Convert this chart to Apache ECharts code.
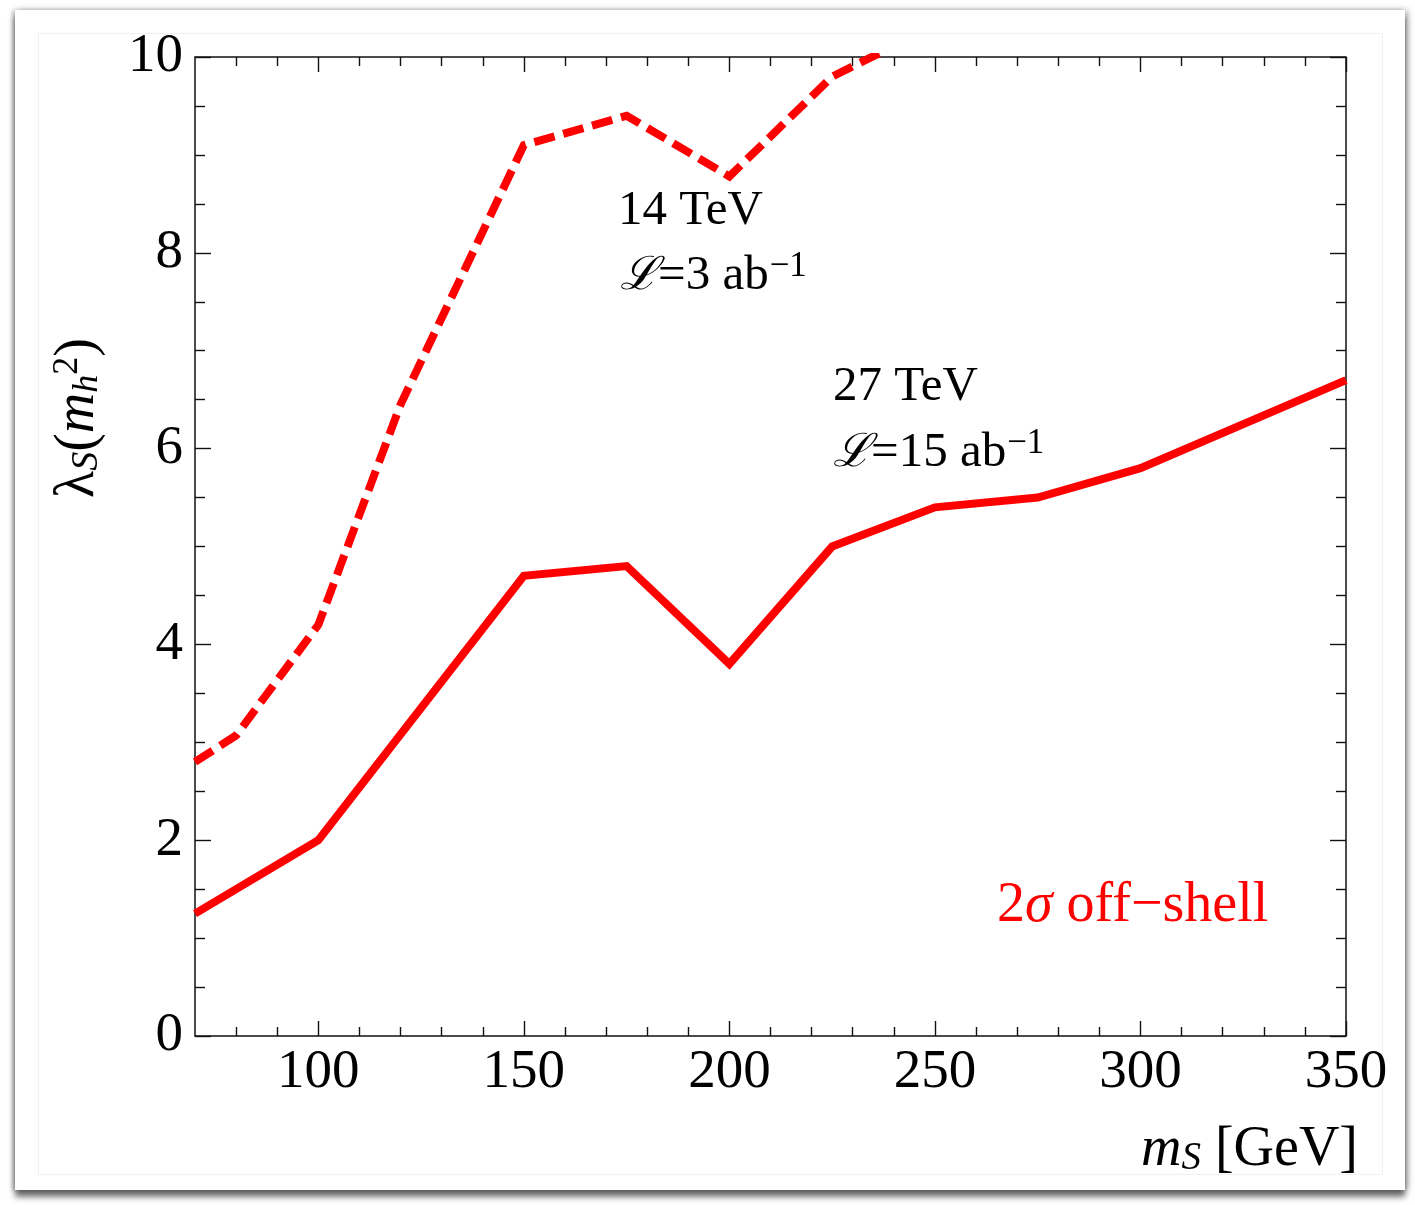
<!DOCTYPE html>
<html>
<head>
<meta charset="utf-8">
<script src="https://cdn.jsdelivr.net/npm/echarts@6/dist/echarts.min.js"></script>
<style>
  html, body { margin: 0; padding: 0; background: #ffffff; }
  #wrap { position: relative; width: 1415px; height: 1205px; overflow: hidden; background: #fff; }
  #panel { position: absolute; left: 15px; top: 10px; width: 1390px; height: 1180px; background: #fff;
    box-shadow: 0 7px 6px rgba(0,0,0,0.55), 3px 0 6px rgba(0,0,0,0.28), -3px 0 4px rgba(0,0,0,0.22); }
  #inner { position: absolute; left: 38px; top: 33px; width: 1345px; height: 1142px; border: 1px solid #f1f1f1; box-sizing: border-box; }
  #chart { position: absolute; left: 0; top: 0; width: 1415px; height: 1205px; }
</style>
</head>
<body>
<div id="wrap">
  <div id="panel"></div>
  <div id="inner"></div>
  <div id="chart"></div>
</div>
<script>
// ---- data ----
const dashedX = [70, 80, 100, 120, 150, 175, 200, 225, 250];
const dashedY = [2.8, 3.07, 4.2, 6.45, 9.1, 9.4, 8.78, 9.8, 10.32];
const solidX = [70, 80, 100, 150, 175, 200, 225, 250, 275, 300, 350];
const solidY = [1.25, 1.5, 2.0, 4.7, 4.8, 3.8, 5.0, 5.4, 5.5, 5.8, 6.7];
const xMajorTicks = [100, 150, 200, 250, 300, 350];
const xMinorTicks = [80, 90, 110, 120, 130, 140, 160, 170, 180, 190, 210, 220, 230, 240,
                     260, 270, 280, 290, 310, 320, 330, 340];
const yTickLabels = ['0', '2', '4', '6', '8', '10'];

const FONT = "'Liberation Serif', 'DejaVu Serif', serif";
const RED = '#ff0000';

const chart = echarts.init(document.getElementById('chart'), null, { renderer: 'canvas' });

function xAxisDef(pos, ticks, len, labels) {
  return {
    type: 'value', position: pos, min: 70, max: 350, gridIndex: 0,
    axisLine: { show: false, onZero: false },
    splitLine: { show: false },
    axisTick: { show: true, inside: true, length: len, customValues: ticks,
                lineStyle: { color: '#111', width: 1.4 } },
    axisLabel: labels ? { show: true, customValues: xMajorTicks, margin: 9,
                fontFamily: FONT, fontSize: 55, color: '#000' } : { show: false }
  };
}
function yAxisDef(pos, labels) {
  return {
    type: 'value', position: pos, min: 0, max: 10, interval: 2, gridIndex: 0,
    axisLine: { show: false, onZero: false },
    splitLine: { show: false },
    axisTick: { show: true, inside: true, length: 16, lineStyle: { color: '#111', width: 1.4 } },
    minorTick: { show: true, splitNumber: 4, length: 10, lineStyle: { color: '#111', width: 1.4 } },
    minorSplitLine: { show: false },
    axisLabel: labels ? { show: true, margin: 12, fontFamily: FONT, fontSize: 55, color: '#000',
                formatter: function (v) { return yTickLabels[Math.round(v / 2)]; } } : { show: false }
  };
}

function toPairs(xs, ys) { return xs.map(function (x, i) { return [x, ys[i]]; }); }

function lumi(txt) {
  return {
    text: '{L|ℒ}{n|' + txt + '}{s|−1}', fill: '#000', textAlign: 'left', textVerticalAlign: 'middle',
    rich: {
      L: { fontFamily: "'DejaVu Serif', serif", fontStyle: 'italic', fontSize: 46, fill: '#000', verticalAlign: 'bottom' },
      n: { fontFamily: FONT, fontSize: 49, fill: '#000', verticalAlign: 'bottom' },
      s: { fontFamily: FONT, fontSize: 35, fill: '#000', verticalAlign: 'top', padding: [0, 0, 16, 1] }
    }
  };
}

const option = {
  backgroundColor: 'transparent',
  animation: false,
  grid: { left: 195, right: 69, top: 57, bottom: 169, show: true, borderColor: '#111', borderWidth: 1.5,
          backgroundColor: 'transparent' },
  xAxis: [
    xAxisDef('bottom', xMajorTicks, 15, true),
    xAxisDef('top', xMajorTicks, 15, false),
    xAxisDef('bottom', xMinorTicks, 9, false),
    xAxisDef('top', xMinorTicks, 9, false)
  ],
  yAxis: [ yAxisDef('left', true), yAxisDef('right', false) ],
  series: [
    {
      name: '14 TeV', type: 'line', xAxisIndex: 0, yAxisIndex: 0,
      data: toPairs(dashedX, dashedY), symbol: 'none', clip: true,
      lineStyle: { color: RED, width: 8, type: [21, 9], cap: 'butt', join: 'miter' }
    },
    {
      name: '27 TeV', type: 'line', xAxisIndex: 0, yAxisIndex: 0,
      data: toPairs(solidX, solidY), symbol: 'none', clip: true,
      lineStyle: { color: RED, width: 8, type: 'solid', join: 'miter' }
    }
  ],
  graphic: [
    { type: 'text', x: 618, y: 211, style: { text: '14 TeV', fontFamily: FONT, fontSize: 49, fill: '#000',
      textAlign: 'left', textVerticalAlign: 'middle' } },
    { type: 'text', x: 620, y: 275, style: lumi('=3 ab') },
    { type: 'text', x: 833, y: 387, style: { text: '27 TeV', fontFamily: FONT, fontSize: 49, fill: '#000',
      textAlign: 'left', textVerticalAlign: 'middle' } },
    { type: 'text', x: 833, y: 452, style: lumi('=15 ab') },
    { type: 'text', x: 997, y: 906, style: {
      text: '{a|2}{i|σ}{a| off−shell}', fill: RED, textAlign: 'left', textVerticalAlign: 'middle',
      rich: {
        a: { fontFamily: FONT, fontSize: 56, fill: RED },
        i: { fontFamily: FONT, fontStyle: 'italic', fontSize: 56, fill: RED }
      } } },
    { type: 'text', x: 1358, y: 1150, style: {
      text: '{m|m}{s|S}{g| [GeV]}', textAlign: 'right', textVerticalAlign: 'middle', fill: '#000',
      rich: {
        m: { fontFamily: FONT, fontStyle: 'italic', fontSize: 56, fill: '#000', verticalAlign: 'middle' },
        s: { fontFamily: FONT, fontStyle: 'italic', fontSize: 39, fill: '#000', verticalAlign: 'bottom' },
        g: { fontFamily: FONT, fontSize: 56, fill: '#000', verticalAlign: 'middle' }
      } } },
    { type: 'text', x: 78, y: 418, rotation: Math.PI / 2, style: {
      text: '{l|λ}{s|S}{p|(}{m|m}{h|h}{t|2}{p|)}', textAlign: 'center', textVerticalAlign: 'middle', fill: '#000',
      rich: {
        l: { fontFamily: FONT, fontSize: 56, fill: '#000', verticalAlign: 'middle' },
        s: { fontFamily: FONT, fontStyle: 'italic', fontSize: 38, fill: '#000', verticalAlign: 'bottom' },
        p: { fontFamily: FONT, fontSize: 56, fill: '#000', verticalAlign: 'middle' },
        m: { fontFamily: FONT, fontStyle: 'italic', fontSize: 56, fill: '#000', verticalAlign: 'middle' },
        h: { fontFamily: FONT, fontStyle: 'italic', fontSize: 36, fill: '#000', verticalAlign: 'bottom', padding: [6, 0, 0, 0] },
        t: { fontFamily: FONT, fontSize: 36, fill: '#000', verticalAlign: 'top' }
      } } }
  ]
};
chart.setOption(option);
</script>
</body>
</html>
